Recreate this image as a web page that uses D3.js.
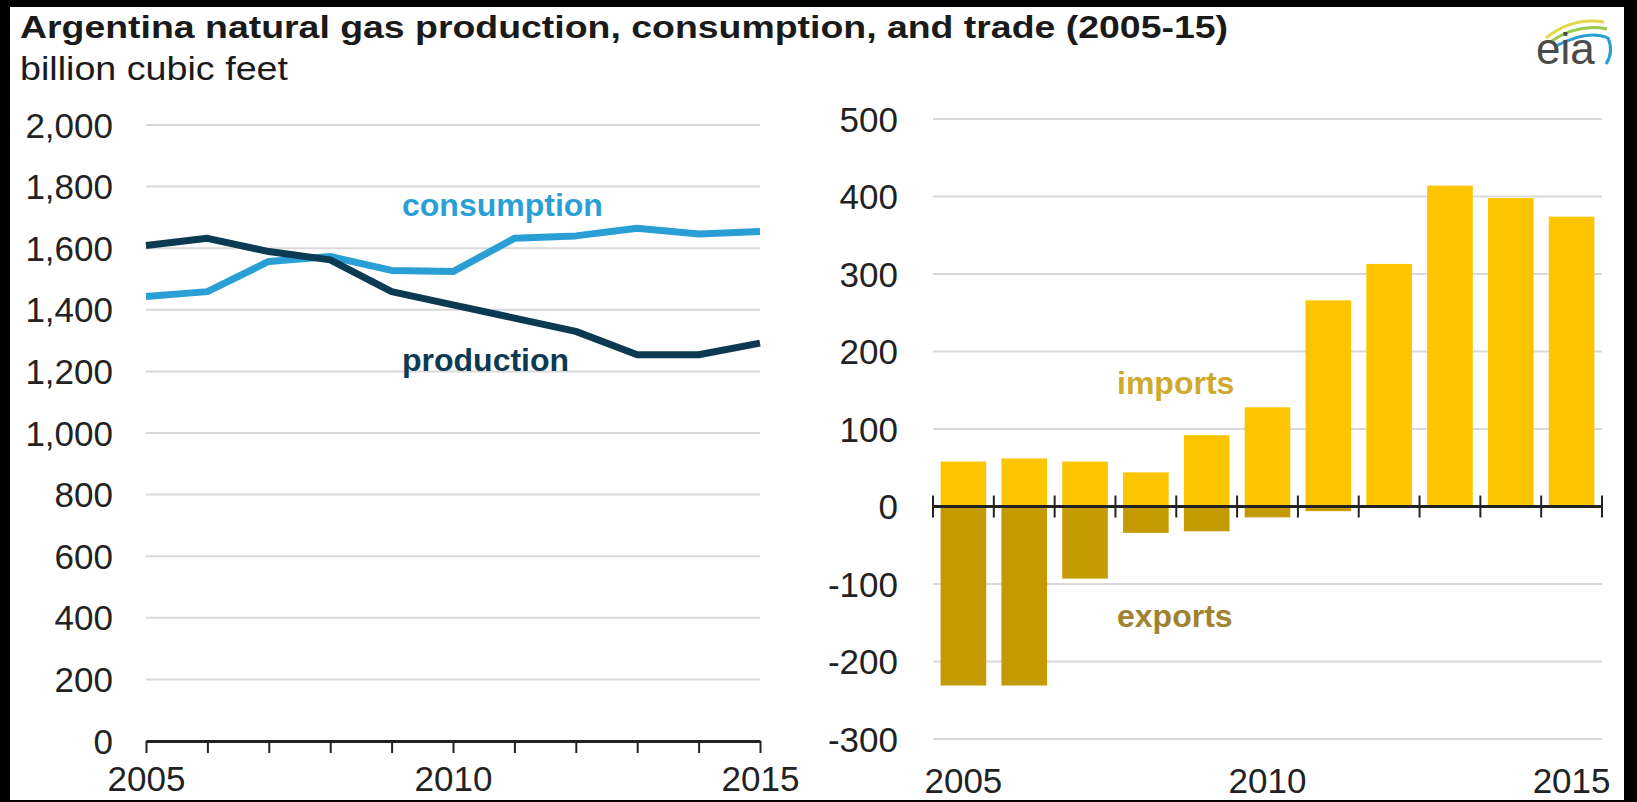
<!DOCTYPE html>
<html>
<head>
<meta charset="utf-8">
<script src="https://cdn.jsdelivr.net/npm/d3@7"></script>
<style>
  html, body { margin: 0; padding: 0; background: #000; }
  svg { display: block; }
  text { font-family: "Liberation Sans", Arial, sans-serif; }
</style>
</head>
<body>
<svg id="chart" width="1637" height="802"></svg>
<script>
// ---- data ----
const years = [2005, 2006, 2007, 2008, 2009, 2010, 2011, 2012, 2013, 2014, 2015];
const consumption = [1443, 1459, 1557, 1573, 1528, 1524, 1632, 1640, 1665, 1646, 1654];
const production = [1609, 1632, 1589, 1562, 1459, 1416, 1373, 1330, 1254, 1254, 1292];
const imports = [58, 62, 58, 44, 92, 128, 266, 313, 414, 398, 374];
const exports = [-231, -231, -93, -34, -32, -14, -6, 0, 0, 0, 0];
const leftTicks = [0, 200, 400, 600, 800, 1000, 1200, 1400, 1600, 1800, 2000];
const rightTicks = [-300, -200, -100, 0, 100, 200, 300, 400, 500];
const yearLabels = [2005, 2010, 2015];

const svg = d3.select("#chart");
svg.append("rect").attr("x", 10).attr("y", 7).attr("width", 1614).attr("height", 793).attr("fill", "#fff");

// title
svg.append("text").attr("x", 20).attr("y", 38).attr("font-size", 31).attr("font-weight", "bold").attr("fill", "#1a1a1a")
  .attr("textLength", 1208).attr("lengthAdjust", "spacingAndGlyphs")
  .text("Argentina natural gas production, consumption, and trade (2005-15)");
svg.append("text").attr("x", 20).attr("y", 80).attr("font-size", 33).attr("fill", "#1a1a1a")
  .attr("textLength", 268).attr("lengthAdjust", "spacingAndGlyphs")
  .text("billion cubic feet");

// eia logo
const logo = svg.append("g");
logo.append("path").attr("d", "M1546,38 Q1572,17 1604,22").attr("fill", "none").attr("stroke", "#e2d84a").attr("stroke-width", 3);
logo.append("path").attr("d", "M1550,42 Q1578,23 1607,29").attr("fill", "none").attr("stroke", "#9bcb4a").attr("stroke-width", 3);
logo.append("path").attr("d", "M1556,46 Q1588,29 1608,38 Q1614,52 1606,64").attr("fill", "none").attr("stroke", "#2a9fd6").attr("stroke-width", 3);
logo.append("text").attr("x", 1536).attr("y", 64).attr("font-family", "'Liberation Serif', serif").attr("font-size", 44).attr("fill", "#4a4a4a").text("eia");

// ---- left chart ----
const xL = d3.scalePoint().domain(years).range([146, 760]);
const yL = d3.scaleLinear().domain([0, 2000]).range([741, 125]);

const gL = svg.append("g");
gL.append("g").selectAll("line").data(leftTicks.filter(d => d > 0)).join("line")
  .attr("x1", 146).attr("x2", 760).attr("y1", d => yL(d)).attr("y2", d => yL(d))
  .attr("stroke", "#d9d9d9").attr("stroke-width", 2);

gL.append("g").selectAll("text").data(leftTicks).join("text")
  .attr("x", 113).attr("y", d => yL(d)).attr("dy", "0.36em").attr("text-anchor", "end")
  .attr("font-size", 35).attr("fill", "#222")
  .text(d => d3.format(",")(d));

const axL = gL.append("g").attr("transform", `translate(0,${yL(0)})`)
  .call(d3.axisBottom(xL).tickSize(12).tickSizeOuter(0).tickFormat(d => yearLabels.includes(d) ? d : ""));
axL.select(".domain").attr("stroke", "#222").attr("stroke-width", 3);
axL.selectAll(".tick line").attr("stroke", "#222").attr("stroke-width", 2);
axL.selectAll(".tick text").attr("font-size", 35).attr("fill", "#222").attr("y", 25).attr("dy", "0.71em").attr("font-family", "'Liberation Sans', Arial, sans-serif");

const line = d3.line().x((d, i) => xL(years[i])).y(d => yL(d));
gL.append("path").datum(consumption).attr("d", line).attr("fill", "none").attr("stroke", "#2a9fd6").attr("stroke-width", 7).attr("stroke-linejoin", "round");
gL.append("path").datum(production).attr("d", line).attr("fill", "none").attr("stroke", "#0c3a52").attr("stroke-width", 7).attr("stroke-linejoin", "round");

gL.append("text").attr("x", 402).attr("y", 216).attr("font-size", 32).attr("font-weight", "bold").attr("fill", "#2a9fd6").text("consumption");
gL.append("text").attr("x", 402).attr("y", 371).attr("font-size", 32).attr("font-weight", "bold").attr("fill", "#0c3a52").text("production");

// ---- right chart ----
const xR = d3.scaleBand().domain(years).range([933, 1602]).paddingInner(0.25).paddingOuter(0.125);
const yR = d3.scaleLinear().domain([-300, 500]).range([739, 119]);

const gR = svg.append("g");
gR.append("g").selectAll("line").data(rightTicks.filter(d => d !== 0)).join("line")
  .attr("x1", 933).attr("x2", 1602).attr("y1", d => yR(d)).attr("y2", d => yR(d))
  .attr("stroke", "#d9d9d9").attr("stroke-width", 2);

gR.append("g").selectAll("text").data(rightTicks).join("text")
  .attr("x", 898).attr("y", d => yR(d)).attr("dy", "0.36em").attr("text-anchor", "end")
  .attr("font-size", 35).attr("fill", "#222")
  .text(d => d);

gR.append("g").selectAll("rect").data(imports).join("rect")
  .attr("x", (d, i) => xR(years[i])).attr("width", xR.bandwidth())
  .attr("y", d => yR(d)).attr("height", d => yR(0) - yR(d)).attr("fill", "#fdc400");
gR.append("g").selectAll("rect").data(exports).join("rect")
  .attr("x", (d, i) => xR(years[i])).attr("width", xR.bandwidth())
  .attr("y", yR(0)).attr("height", d => yR(d) - yR(0)).attr("fill", "#c59a00");

// axis with boundary ticks
const step = xR.step();
const bounds = years.map(y => xR(y) - xR.paddingInner() * step / 2).concat([1602]);
const axR = gR.append("g");
axR.append("line").attr("x1", 933).attr("x2", 1602).attr("y1", yR(0)).attr("y2", yR(0)).attr("stroke", "#222").attr("stroke-width", 3);
axR.selectAll("line.tk").data(bounds).join("line").attr("class", "tk")
  .attr("x1", d => d).attr("x2", d => d).attr("y1", yR(0) - 11).attr("y2", yR(0) + 11)
  .attr("stroke", "#222").attr("stroke-width", 2);
axR.selectAll("text").data(yearLabels).join("text")
  .attr("x", d => xR(d) + xR.bandwidth() / 2).attr("y", 793).attr("text-anchor", "middle")
  .attr("font-size", 35).attr("fill", "#222").text(d => d);

gR.append("text").attr("x", 1117).attr("y", 394).attr("font-size", 32).attr("font-weight", "bold").attr("fill", "#cfa92c").text("imports");
gR.append("text").attr("x", 1117).attr("y", 627).attr("font-size", 32).attr("font-weight", "bold").attr("fill", "#a08330").text("exports");
</script>
</body>
</html>
